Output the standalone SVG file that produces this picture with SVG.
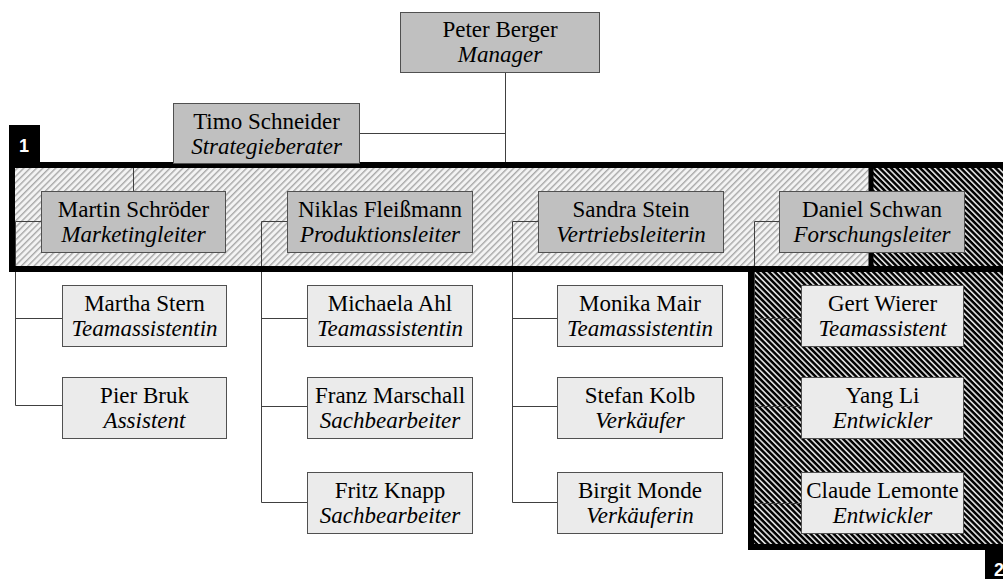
<svg xmlns="http://www.w3.org/2000/svg" width="1003" height="579" viewBox="0 0 1003 579">
<style>
.box1{fill:#c0c0c0;stroke:#505050;stroke-width:1}
.box2{fill:#ebebeb;stroke:#505050;stroke-width:1}
text.nm{font-family:'Liberation Serif','DejaVu Serif',serif;font-size:23px;fill:#000;text-anchor:middle}
text.rl{font-family:'Liberation Serif','DejaVu Serif',serif;font-size:23px;font-style:italic;fill:#000;text-anchor:middle}
.con{fill:none;stroke:#404040;stroke-width:1}
text.tab{font-family:'Liberation Sans',Arial,sans-serif;font-size:18px;font-weight:bold;fill:#fff}
</style>
<defs>
<pattern id="h1" width="4.5" height="4.5" patternUnits="userSpaceOnUse" patternTransform="rotate(45)">
<rect width="4.5" height="4.5" fill="#f3f3f3"/><rect width="1.4" height="4.5" fill="#a8a8a8"/>
</pattern>
<pattern id="h2" width="4.1" height="4.1" patternUnits="userSpaceOnUse" patternTransform="rotate(-45)">
<rect width="4.1" height="4.1" fill="#000"/><rect width="1.7" height="4.1" fill="#d8d8d8"/>
</pattern>
</defs>
<rect width="1003" height="579" fill="#fff"/>
<g id="region1-fill">
<rect x="12" y="165" width="1000" height="104" fill="url(#h1)"/>
</g>
<g id="region2-fill">
<polygon points="871,165 1012,165 1012,547 751,547 751,269 871,269" fill="url(#h2)"/>
</g>
<g id="connectors">
<line class="con" x1="505.5" y1="72" x2="505.5" y2="166"/>
<line class="con" x1="359" y1="133.5" x2="505.5" y2="133.5"/>
<line class="con" x1="133.5" y1="166" x2="133.5" y2="191"/>
<polyline class="con" points="41,221.5 15.5,221.5 15.5,405.5 62,405.5"/>
<line class="con" x1="15.5" y1="318.5" x2="62" y2="318.5"/>
<polyline class="con" points="287,221.5 261.5,221.5 261.5,502.5 307,502.5"/>
<line class="con" x1="261.5" y1="318.5" x2="307" y2="318.5"/>
<line class="con" x1="261.5" y1="406.5" x2="307" y2="406.5"/>
<polyline class="con" points="538,221.5 512.5,221.5 512.5,502.5 557,502.5"/>
<line class="con" x1="512.5" y1="318.5" x2="557" y2="318.5"/>
<line class="con" x1="512.5" y1="406.5" x2="557" y2="406.5"/>
<polyline class="con" points="779,221.5 754.5,221.5 754.5,503.5 801,503.5"/>
<line class="con" x1="754.5" y1="318.5" x2="801" y2="318.5"/>
<line class="con" x1="754.5" y1="406.5" x2="801" y2="406.5"/>
</g>
<g id="region-borders">
<polyline points="871,165 871,269" fill="none" stroke="#000" stroke-width="5"/>
<polyline points="751,269 751,547 1012,547" fill="none" stroke="#000" stroke-width="6"/>
<rect x="12" y="165" width="1000" height="104" fill="none" stroke="#000" stroke-width="6"/>
<rect x="9" y="125" width="31" height="40" fill="#000"/>
<text class="tab" x="19" y="152">1</text>
<rect x="985" y="550" width="30" height="30" fill="#000"/>
<text class="tab" x="994" y="576">2</text>
</g>
<g id="peter-berger"><rect class="box1" x="400.5" y="12.5" width="199" height="60"/><text class="nm" x="500" y="37">Peter Berger</text><text class="rl" x="500" y="62">Manager</text></g>
<g id="timo-schneider"><rect class="box1" x="173.5" y="103.5" width="186" height="60"/><text class="nm" x="266.5" y="129">Timo Schneider</text><text class="rl" x="266.5" y="154">Strategieberater</text></g>
<g id="martin-schroeder"><rect class="box1" x="41.5" y="191.5" width="184" height="61"/><text class="nm" x="133.5" y="217">Martin Schröder</text><text class="rl" x="133.5" y="242">Marketingleiter</text></g>
<g id="niklas-fleissmann"><rect class="box1" x="287.5" y="191.5" width="185" height="61"/><text class="nm" x="380" y="217">Niklas Fleißmann</text><text class="rl" x="380" y="242">Produktionsleiter</text></g>
<g id="sandra-stein"><rect class="box1" x="538.5" y="191.5" width="185" height="61"/><text class="nm" x="631" y="217">Sandra Stein</text><text class="rl" x="631" y="242">Vertriebsleiterin</text></g>
<g id="daniel-schwan"><rect class="box1" x="779.5" y="191.5" width="185" height="61"/><text class="nm" x="872" y="217">Daniel Schwan</text><text class="rl" x="872" y="242">Forschungsleiter</text></g>
<g id="martha-stern"><rect class="box2" x="62.5" y="285.5" width="164" height="61"/><text class="nm" x="144.5" y="311">Martha Stern</text><text class="rl" x="144.5" y="336">Teamassistentin</text></g>
<g id="pier-bruk"><rect class="box2" x="62.5" y="377.5" width="164" height="61"/><text class="nm" x="144.5" y="403">Pier Bruk</text><text class="rl" x="144.5" y="428">Assistent</text></g>
<g id="michaela-ahl"><rect class="box2" x="307.5" y="285.5" width="165" height="61"/><text class="nm" x="390" y="311">Michaela Ahl</text><text class="rl" x="390" y="336">Teamassistentin</text></g>
<g id="franz-marschall"><rect class="box2" x="307.5" y="377.5" width="165" height="61"/><text class="nm" x="390" y="403">Franz Marschall</text><text class="rl" x="390" y="428">Sachbearbeiter</text></g>
<g id="fritz-knapp"><rect class="box2" x="307.5" y="472.5" width="165" height="61"/><text class="nm" x="390" y="498">Fritz Knapp</text><text class="rl" x="390" y="523">Sachbearbeiter</text></g>
<g id="monika-mair"><rect class="box2" x="557.5" y="285.5" width="165" height="61"/><text class="nm" x="640" y="311">Monika Mair</text><text class="rl" x="640" y="336">Teamassistentin</text></g>
<g id="stefan-kolb"><rect class="box2" x="557.5" y="377.5" width="165" height="61"/><text class="nm" x="640" y="403">Stefan Kolb</text><text class="rl" x="640" y="428">Verkäufer</text></g>
<g id="birgit-monde"><rect class="box2" x="557.5" y="472.5" width="165" height="61"/><text class="nm" x="640" y="498">Birgit Monde</text><text class="rl" x="640" y="523">Verkäuferin</text></g>
<g id="gert-wierer"><rect class="box2" x="801.5" y="285.5" width="162" height="61"/><text class="nm" x="882.5" y="311">Gert Wierer</text><text class="rl" x="882.5" y="336">Teamassistent</text></g>
<g id="yang-li"><rect class="box2" x="801.5" y="377.5" width="162" height="61"/><text class="nm" x="882.5" y="403">Yang Li</text><text class="rl" x="882.5" y="428">Entwickler</text></g>
<g id="claude-lemonte"><rect class="box2" x="801.5" y="472.5" width="162" height="61"/><text class="nm" x="882.5" y="498">Claude Lemonte</text><text class="rl" x="882.5" y="523">Entwickler</text></g>
</svg>
